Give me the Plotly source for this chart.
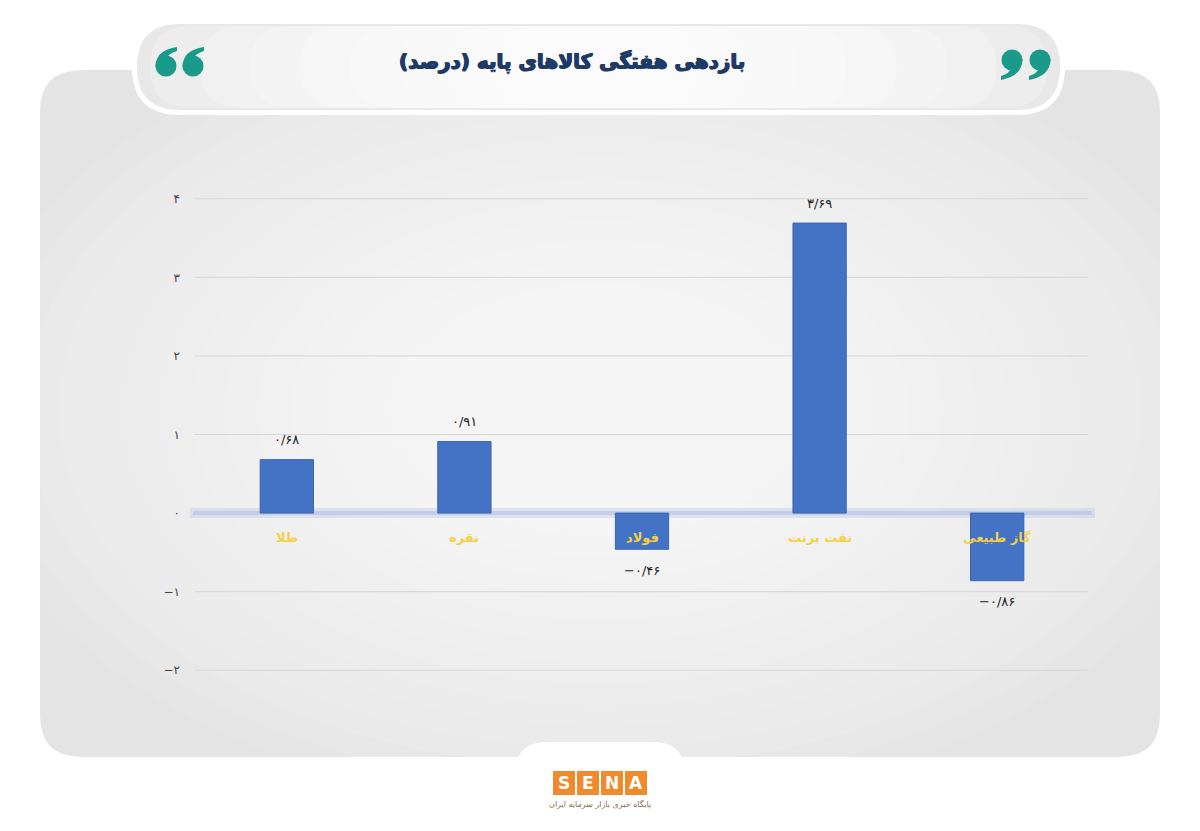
import plotly.graph_objects as go

# ---- data ----
categories = ["طلا", "نقره", "فولاد", "نفت برنت", "گاز طبیعی"]
values = [0.68, 0.91, -0.46, 3.69, -0.86]
value_labels = ["۰/۶۸", "۰/۹۱", "−۰/۴۶", "۳/۶۹", "−۰/۸۶"]
y_tickvals = [-2, -1, 0, 1, 2, 3, 4]
y_ticktext = ["−۲", "−۱", "۰", "۱", "۲", "۳", "۴"]
title_text = "بازدهی هفتگی کالاهای پایه (درصد)"
logo_letters = ["S", "E", "N", "A"]
logo_caption = "پایگاه خبری بازار سرمایه ایران"

OFF = 8  # page body margin
W, H = 1184, 815
# plot area in page pixels: x 198..1086, y 183..686
ML = 198 - OFF
MR = W - (1086 - OFF)
MT = 183 - OFF
MB = H - (686 - OFF)
PW = W - ML - MR
PH = H - MT - MB


def px(x):
    return (x - OFF - ML) / PW


def py(y):
    return (H - MB - (y - OFF)) / PH


def path_of(cmds):
    s = ""
    for cmd, ps in cmds:
        if cmd == "Z":
            s += "Z "
            continue
        s += cmd + " " + " ".join(f"{px(a):.5f},{py(b):.5f}" for a, b in ps) + " "
    return s.strip()


def rrect(x0, y0, x1, y1, r):
    return path_of([
        ("M", [(x0 + r, y0)]),
        ("L", [(x1 - r, y0)]),
        ("Q", [(x1, y0), (x1, y0 + r)]),
        ("L", [(x1, y1 - r)]),
        ("Q", [(x1, y1), (x1 - r, y1)]),
        ("L", [(x0 + r, y1)]),
        ("Q", [(x0, y1), (x0, y1 - r)]),
        ("L", [(x0, y0 + r)]),
        ("Q", [(x0, y0), (x0 + r, y0)]),
        ("Z", []),
    ])


shapes = []
# main gray panel
shapes.append(dict(type="path", path=rrect(40, 70, 1160, 757, 42), xref="paper", yref="paper",
                   fillcolor="#e4e4e4", line=dict(width=0), layer="below"))
# radial lightening
for i in range(16):
    rx = 640 - i * 33
    ry = 400 - i * 21
    shapes.append(dict(type="circle", xref="paper", yref="paper",
                       x0=px(600 - rx), x1=px(600 + rx), y0=py(410 - ry), y1=py(410 + ry),
                       fillcolor="rgba(255,255,255,0.085)", line=dict(width=0), layer="below"))
# gridline extension stubs (reference grid runs 195..1088)
for v in y_tickvals:
    if v == 0:
        continue
    shapes.append(dict(type="line", xref="paper", yref="y", x0=px(195), x1=px(1088), y0=v, y1=v,
                       line=dict(color="#d6d6d6", width=1), layer="below"))
# title pill
shapes.append(dict(type="path", path=rrect(132, 19, 1065, 115, 48), xref="paper", yref="paper",
                   fillcolor="#ffffff", line=dict(width=0), layer="below"))
shapes.append(dict(type="path", path=rrect(137, 24, 1060, 110, 43), xref="paper", yref="paper",
                   fillcolor="#e8e8e8", line=dict(width=0), layer="below"))
for i in range(8):
    shapes.append(dict(type="path", path=rrect(150 + i * 50, 26, 1047 - i * 50, 108, 41),
                       xref="paper", yref="paper",
                       fillcolor="rgba(255,255,255,0.22)", line=dict(width=0), layer="below"))
# quote marks
TEAL = "#1a9a89"
for c in (166, 193):
    r = 10.5
    shapes.append(dict(type="circle", xref="paper", yref="paper",
                       x0=px(c - r), x1=px(c + r), y0=py(66 + r), y1=py(66 - r),
                       fillcolor=TEAL, line=dict(width=0), layer="below"))
    shapes.append(dict(type="path", xref="paper", yref="paper", path=path_of([
        ("M", [(c - r, 67)]),
        ("Q", [(c - r, 50), (c + 11, 47)]),
        ("L", [(c + 11, 51)]),
        ("Q", [(c + 2, 54), (c + 1, 58)]),
        ("L", [(c, 66)]),
        ("Z", []),
    ]), fillcolor=TEAL, line=dict(width=0), layer="below"))
for c in (1012, 1040):
    r = 10.5
    shapes.append(dict(type="circle", xref="paper", yref="paper",
                       x0=px(c - r), x1=px(c + r), y0=py(60 + r), y1=py(60 - r),
                       fillcolor=TEAL, line=dict(width=0), layer="below"))
    shapes.append(dict(type="path", xref="paper", yref="paper", path=path_of([
        ("M", [(c + r, 59)]),
        ("Q", [(c + r, 76), (c - 11, 80)]),
        ("L", [(c - 11, 76)]),
        ("Q", [(c - 2, 73), (c - 1, 68)]),
        ("L", [(c, 60)]),
        ("Z", []),
    ]), fillcolor=TEAL, line=dict(width=0), layer="below"))
# logo tab
shapes.append(dict(type="path", path=rrect(515, 742, 685, 880, 32), xref="paper", yref="paper",
                   fillcolor="#ffffff", line=dict(width=0), layer="below"))
# zero line glow
shapes.append(dict(type="line", xref="paper", yref="y", x0=px(190), x1=px(1095), y0=0, y1=0,
                   line=dict(color="rgba(195,208,232,0.5)", width=10), layer="below"))
shapes.append(dict(type="line", xref="paper", yref="y", x0=px(193), x1=px(1092), y0=0, y1=0,
                   line=dict(color="rgba(175,192,225,0.55)", width=4), layer="below"))
# logo squares
for i, _ in enumerate(logo_letters):
    x0 = 553 + i * 24
    shapes.append(dict(type="rect", xref="paper", yref="paper",
                       x0=px(x0), x1=px(x0 + 22), y0=py(795), y1=py(771),
                       fillcolor="#ef8b2c", line=dict(width=0), layer="above"))

annotations = []
annotations.append(dict(text=f"<b>{title_text}</b>", x=px(572), y=py(62), xref="paper", yref="paper",
                        showarrow=False,
                        font=dict(family="DejaVu Sans", size=20, color="#1e3a66",
                                  shadow="0.7px 0 0 #1e3a66, -0.7px 0 0 #1e3a66, 0 0.5px 0 #1e3a66"),
                        xanchor="center", yanchor="middle"))
for c in categories:
    annotations.append(dict(text=f"<b>{c}</b>", x=c, y=0, xref="x", yref="y", showarrow=False,
                            yshift=-24, font=dict(family="DejaVu Sans", size=13, color="#f5cf48"),
                            xanchor="center", yanchor="middle"))
for c, v, t in zip(categories, values, value_labels):
    annotations.append(dict(text=t, x=c, y=v, xref="x", yref="y", showarrow=False,
                            yshift=20 if v >= 0 else -21,
                            font=dict(family="DejaVu Sans", size=13, color="#222222"),
                            xanchor="center", yanchor="middle"))
for i, L in enumerate(logo_letters):
    annotations.append(dict(text=f"<b>{L}</b>", x=px(553 + i * 24 + 11), y=py(783), xref="paper",
                            yref="paper", showarrow=False,
                            font=dict(family="DejaVu Sans", size=17, color="#ffffff"),
                            xanchor="center", yanchor="middle"))
annotations.append(dict(text=logo_caption, x=px(600), y=py(804), xref="paper", yref="paper",
                        showarrow=False, font=dict(family="DejaVu Sans", size=8, color="#8a6a4a"),
                        xanchor="center", yanchor="middle"))

fig = go.Figure(go.Bar(
    x=categories, y=values,
    marker=dict(color="#4472c4", line=dict(color="#3b64b0", width=1)),
    width=0.3, hoverinfo="skip",
))

fig.update_layout(
    width=W, height=H,
    margin=dict(l=ML, r=MR, t=MT, b=MB),
    paper_bgcolor="#ffffff", plot_bgcolor="rgba(0,0,0,0)",
    showlegend=False,
    shapes=shapes, annotations=annotations,
    xaxis=dict(showticklabels=False, showgrid=False, zeroline=False, showline=False, ticks=""),
    yaxis=dict(range=[-2.2, 4.2], tickvals=y_tickvals, ticktext=y_ticktext,
               showgrid=False, zeroline=False, showline=False, ticks="",
               tickfont=dict(family="DejaVu Sans", size=12, color="#444444"),
               ticklabelstandoff=17),
)

fig.write_html("out.html")
